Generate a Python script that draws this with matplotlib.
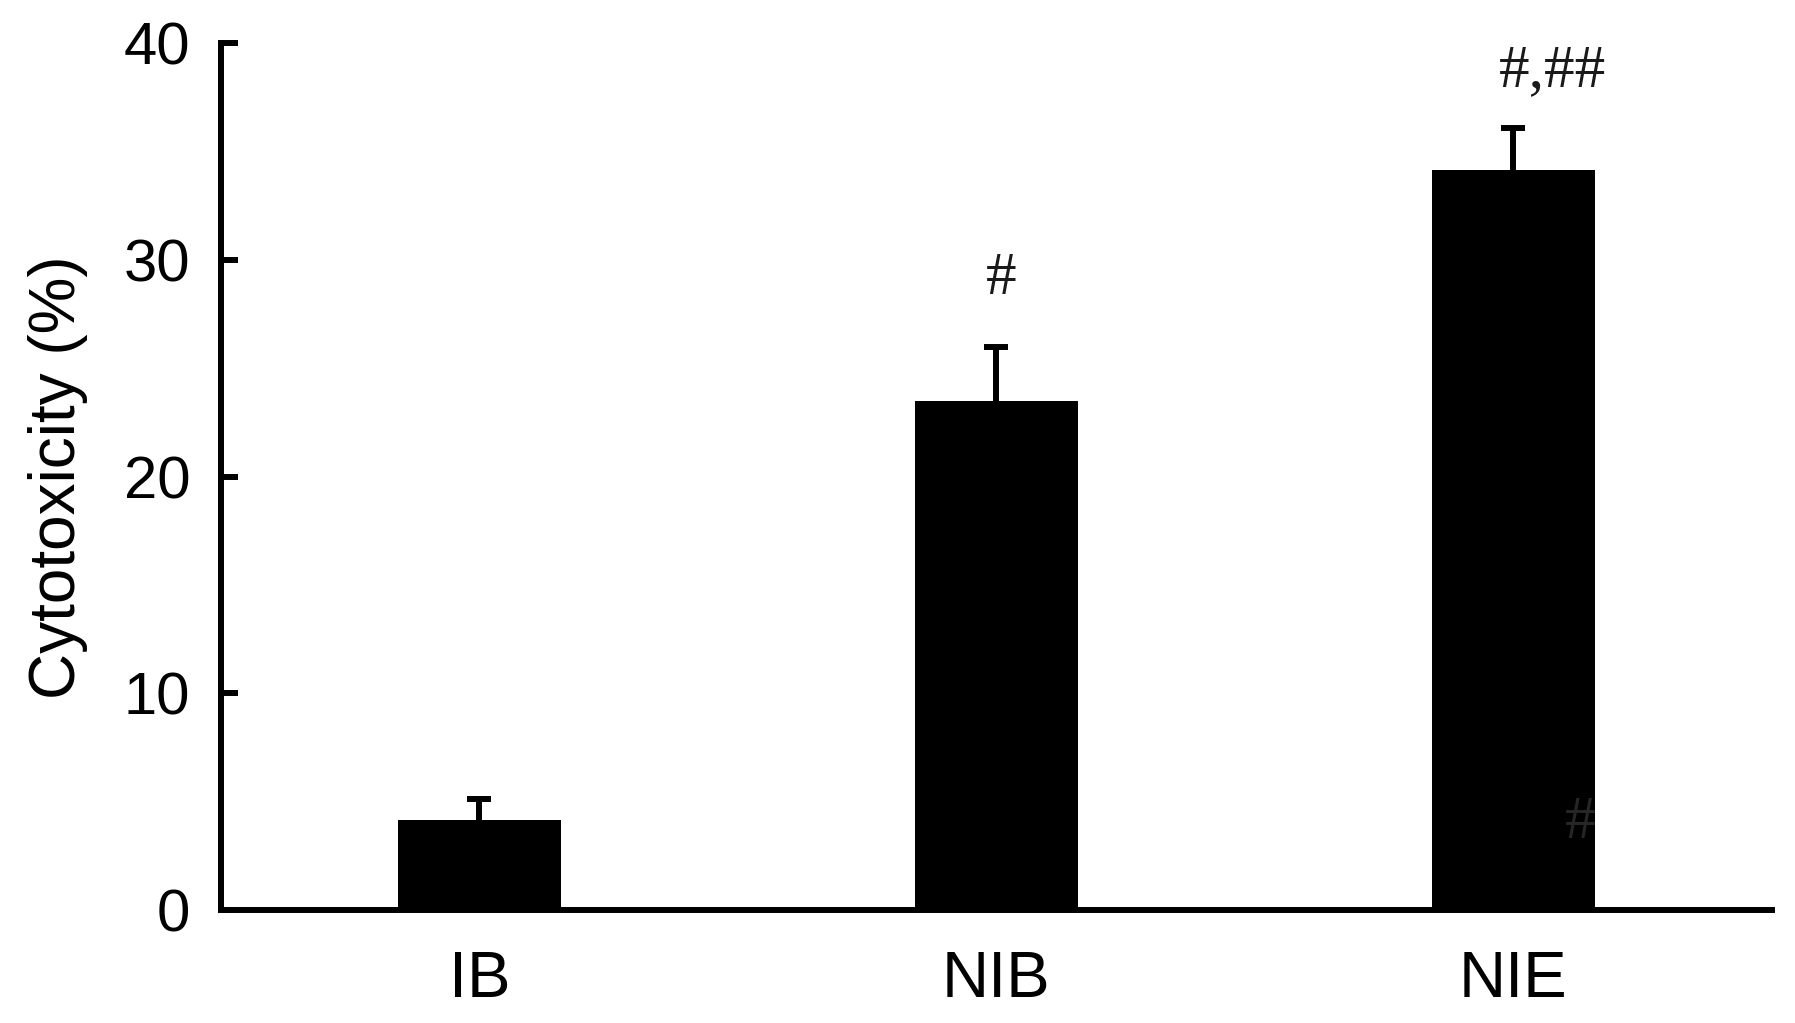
import matplotlib.pyplot as plt

plt.rcParams['font.family'] = 'Liberation Sans'

# data
groups = ['IB', 'NIB', 'NIE']
cytotoxicity = [4.15, 23.5, 34.15]
sem = [0.95, 2.5, 1.95]
sig_labels = ['', '#', '#,##']
sig_y = [0, 29.1, 38.7]
sig_dx = [0, 0.01, 0.075]

fig = plt.figure(figsize=(17.95, 10.23), dpi=100)
ax = fig.add_axes([0.1231, 0.1105, 0.864, 0.847])

x = list(range(len(groups)))
ax.bar(x, cytotoxicity, width=0.315, color='black', zorder=2)
eb = ax.errorbar(x, cytotoxicity, yerr=[[0] * len(sem), sem], fmt='none',
                 ecolor='black', elinewidth=4.3, capsize=8.5, capthick=4.3,
                 zorder=1)
eb[1][0].set_visible(False)   # only the upper cap

# significance marks
for xi, lab, yy, dx in zip(x, sig_labels, sig_y, sig_dx):
    if lab:
        ax.text(xi + dx, yy, lab, ha='center', va='center', fontsize=44,
                family='Liberation Serif', color='#1a1a1a')

# faint mark left inside the NIE bar
ax.text(2.13, 4.0, '#', ha='center', va='center', fontsize=44,
        family='Liberation Serif', color='#262626', zorder=3)

ax.set_xlim(-0.5, 2.5)
ax.set_ylim(0, 40)
ax.set_yticks([0, 10, 20, 30, 40])
ax.set_xticks(x)
ax.set_xticklabels(groups)

for s in ['top', 'right']:
    ax.spines[s].set_visible(False)
for s in ['left', 'bottom']:
    ax.spines[s].set_linewidth(4.3)

ax.tick_params(axis='y', direction='in', length=12, width=4.3,
               labelsize=43, pad=22)
ax.tick_params(axis='x', length=0, labelsize=47, pad=29)
ax.set_ylabel('Cytotoxicity (%)', fontsize=46, labelpad=26)

fig.savefig('out.png', dpi=100, facecolor='white')
